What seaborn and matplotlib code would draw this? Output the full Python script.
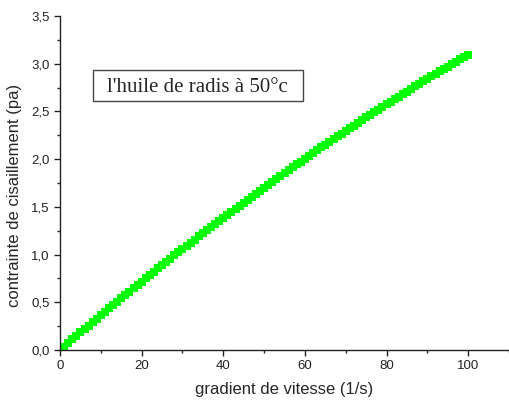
import numpy as np
import pandas as pd
import seaborn as sns
import matplotlib.pyplot as plt
from matplotlib.patches import Rectangle
from matplotlib.ticker import MultipleLocator, FuncFormatter

# shear rate (1/s) and shear stress (pa)
gradient = list(range(1, 101))
contrainte = [
    0.037, 0.074, 0.111, 0.147, 0.184, 0.220, 0.257, 0.293, 0.329, 0.365,
    0.401, 0.436, 0.472, 0.507, 0.543, 0.578, 0.613, 0.648, 0.683, 0.717,
    0.752, 0.786, 0.821, 0.855, 0.889, 0.923, 0.957, 0.991, 1.024, 1.058,
    1.091, 1.124, 1.157, 1.190, 1.223, 1.256, 1.288, 1.321, 1.353, 1.385,
    1.418, 1.450, 1.481, 1.513, 1.545, 1.576, 1.608, 1.639, 1.670, 1.701,
    1.732, 1.763, 1.793, 1.824, 1.854, 1.884, 1.915, 1.945, 1.974, 2.004,
    2.034, 2.063, 2.093, 2.122, 2.151, 2.180, 2.209, 2.238, 2.267, 2.295,
    2.324, 2.352, 2.380, 2.408, 2.436, 2.464, 2.492, 2.519, 2.546, 2.574,
    2.601, 2.628, 2.655, 2.682, 2.708, 2.735, 2.761, 2.788, 2.814, 2.840,
    2.866, 2.892, 2.918, 2.943, 2.969, 2.994, 3.019, 3.044, 3.069, 3.094,
]
label = "l'huile de radis à 50°c"

df = pd.DataFrame({"gradient": gradient, "contrainte": contrainte})

sns.set_style("ticks")
plt.rcParams['font.family'] = ['Liberation Sans', 'DejaVu Sans']

fig = plt.figure(figsize=(5.09, 4.08), dpi=100)
ax = fig.add_axes([0.118, 0.142, 0.882, 0.819])

sns.scatterplot(data=df, x="gradient", y="contrainte", marker="s",
                color="#00ff00", s=28, linewidth=0, ax=ax)

ax.set_xlim(0, 110)
ax.set_ylim(0, 3.5)
ax.xaxis.set_major_locator(MultipleLocator(20))
ax.xaxis.set_minor_locator(MultipleLocator(10))
ax.yaxis.set_major_locator(MultipleLocator(0.5))
ax.yaxis.set_minor_locator(MultipleLocator(0.25))
ax.yaxis.set_major_formatter(FuncFormatter(lambda v, p: f"{v:.1f}".replace(".", ",")))
ax.tick_params(which="major", length=4.5, width=1, labelsize=9.5, colors="#222222", pad=3)
ax.tick_params(which="minor", length=2.5, width=1, colors="#222222")

for side in ["top", "right"]:
    ax.spines[side].set_visible(False)
for side in ["left", "bottom"]:
    ax.spines[side].set_color("#222222")
    ax.spines[side].set_linewidth(1)

ax.set_xlabel("gradient de vitesse (1/s)", fontsize=12, labelpad=7)
ax.set_ylabel("contrainte de cisaillement (pa)", fontsize=12, labelpad=5)
ax.yaxis.set_label_coords(-0.085, 0.464)

# legend-like box with the sample name
ax.add_patch(Rectangle((0.0735, 0.7455), 0.468, 0.0928, transform=ax.transAxes,
                       facecolor="white", edgecolor="#444444", linewidth=1, zorder=3))
ax.text(0.306, 0.7725, label, transform=ax.transAxes, fontsize=15,
        family="Liberation Serif", ha="center", va="baseline", zorder=4)

fig.savefig("out.png", dpi=100)
